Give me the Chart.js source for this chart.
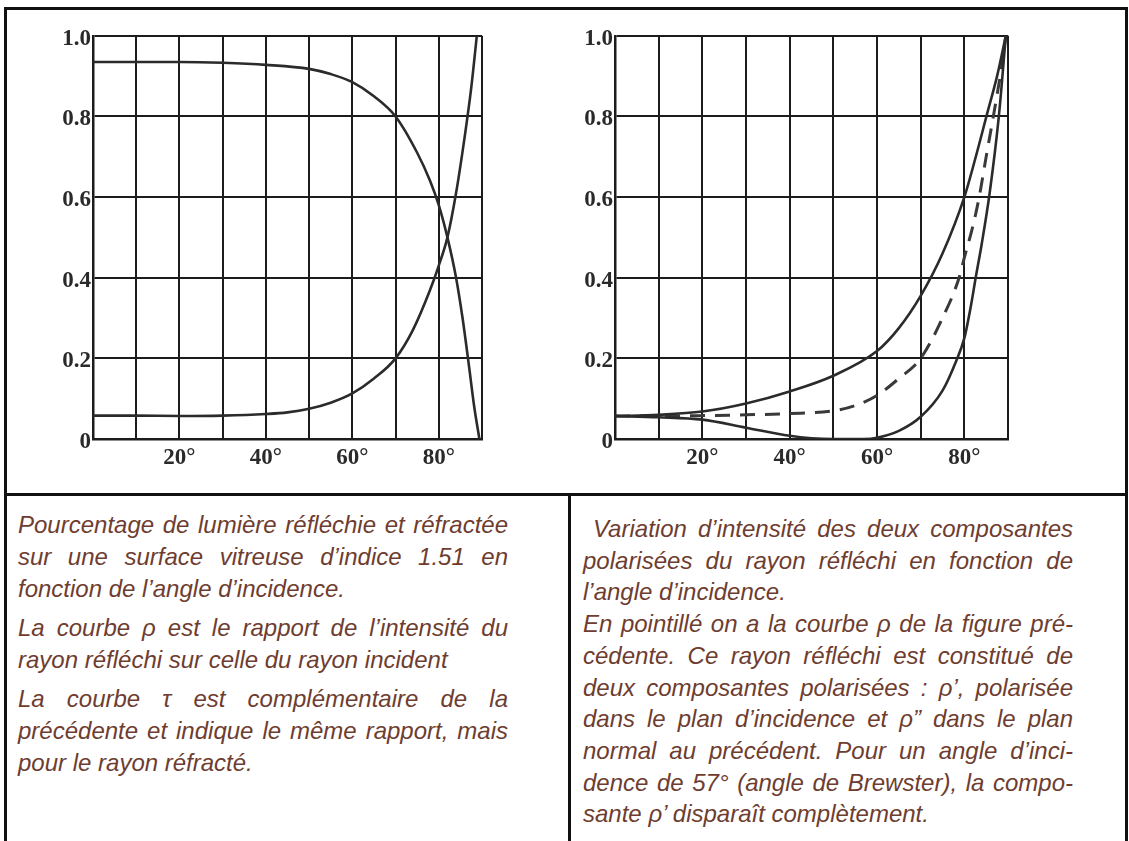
<!DOCTYPE html>
<html>
<head>
<meta charset="utf-8">
<script src="https://cdn.jsdelivr.net/npm/chart.js"></script>
<style>
  body { margin:0; background:#fff; }
  #page { position:relative; width:1129px; height:841px; overflow:hidden; background:#fff; }
  .ln { position:absolute; background:#111; }
  canvas { position:absolute; }
  .txt { position:absolute; width:490px; font-family:"Liberation Sans", Arial, sans-serif; font-style:italic;
         font-size:24px; line-height:32px; color:#6e3d2f; }
  .txt div { white-space:nowrap; }
  .txt .j { text-align:justify; text-align-last:justify; white-space:normal; }
  .gap { margin-top:7px; }
</style>
</head>
<body>
<div id="page">
  <div class="ln" style="left:4px; top:7px; width:1123px; height:3px;"></div>
  <div class="ln" style="left:4px; top:7px; width:3px; height:834px;"></div>
  <div class="ln" style="left:1125px; top:7px; width:3px; height:834px;"></div>
  <div class="ln" style="left:4px; top:493px; width:1124px; height:3px;"></div>
  <div class="ln" style="left:568px; top:493px; width:3px; height:348px;"></div>

  <canvas id="c1" width="470" height="460" style="left:30px; top:20px;"></canvas>
  <canvas id="c2" width="470" height="460" style="left:550px; top:20px;"></canvas>

  <div class="txt" style="left:18px; top:509px;">
    <div class="j">Pourcentage de lumière réfléchie et réfractée</div>
    <div class="j">sur une surface vitreuse d’indice 1.51 en</div>
    <div>fonction de l’angle d’incidence.</div>
    <div class="j gap">La courbe ρ est le rapport de l’intensité du</div>
    <div>rayon réfléchi sur celle du rayon incident</div>
    <div class="j gap">La courbe τ est complémentaire de la</div>
    <div class="j">précédente et indique le même rapport, mais</div>
    <div>pour le rayon réfracté.</div>
  </div>

  <div class="txt" style="left:583px; top:513px; line-height:31.7px;">
    <div class="j" style="padding-left:10px;">Variation d’intensité des deux composantes</div>
    <div class="j">polarisées du rayon réfléchi en fonction de</div>
    <div>l’angle d’incidence.</div>
    <div class="j">En pointillé on a la courbe ρ de la figure pré-</div>
    <div class="j">cédente. Ce rayon réfléchi est constitué de</div>
    <div class="j">deux composantes polarisées : ρ’, polarisée</div>
    <div class="j">dans le plan d’incidence et ρ” dans le plan</div>
    <div class="j">normal au précédent. Pour un angle d’inci-</div>
    <div class="j">dence de 57° (angle de Brewster), la compo-</div>
    <div>sante ρ’ disparaît complètement.</div>
  </div>
</div>

<script>
// axes
const xTicks = [0, 10, 20, 30, 40, 50, 60, 70, 80, 90];
const xLabels = ["", "", "20°", "", "40°", "", "60°", "", "80°", ""];
const yTicks = [0, 0.2, 0.4, 0.6, 0.8, 1.0];
const yLabels = ["0", "0.2", "0.4", "0.6", "0.8", "1.0"];

// figure 1 : rho (réfléchi) et tau (réfracté)
const rhoAngles = [0, 10, 20, 30, 40, 45, 50, 55, 60, 65, 70, 74, 78, 80, 82, 84, 86, 87.5, 88.8];
const rhoValues = [0.058, 0.058, 0.057, 0.058, 0.062, 0.066, 0.075, 0.09, 0.113, 0.15, 0.2, 0.27, 0.37, 0.43, 0.5, 0.61, 0.75, 0.87, 1.0];
const tauAngles = [0, 10, 20, 30, 40, 50, 55, 60, 65, 70, 75, 78, 80, 82, 84, 85.5, 87, 88.2, 89.4];
const tauValues = [0.935, 0.935, 0.935, 0.933, 0.928, 0.918, 0.905, 0.885, 0.85, 0.80, 0.71, 0.64, 0.58, 0.5, 0.4, 0.3, 0.18, 0.08, 0];

// figure 2 : rho'' (haut), rho' (bas), rho en pointillé
const rho2Angles = [0, 10, 20, 30, 40, 50, 60, 65, 70, 75, 80, 82.5, 85.3, 87.5, 89.5];
const rho2Values = [0.057, 0.06, 0.068, 0.088, 0.118, 0.157, 0.218, 0.275, 0.355, 0.46, 0.6, 0.695, 0.81, 0.9, 1.0];
const rho1Angles = [0, 10, 20, 30, 40, 45, 50, 57, 60, 65, 70, 75, 78, 80, 81.5, 82.6, 84, 85.8, 87.9, 89.5];
const rho1Values = [0.057, 0.054, 0.048, 0.028, 0.008, 0.002, 0, 0, 0.003, 0.02, 0.055, 0.12, 0.19, 0.25, 0.33, 0.4, 0.485, 0.61, 0.8, 1.0];
const rhoDashAngles = [0, 10, 20, 30, 40, 50, 55, 60, 65, 70, 75, 78.8, 80, 82, 83.4, 85, 86.8, 88.5, 89.5];
const rhoDashValues = [0.057, 0.057, 0.058, 0.06, 0.063, 0.07, 0.083, 0.108, 0.15, 0.2, 0.3, 0.4, 0.45, 0.53, 0.6, 0.7, 0.81, 0.92, 1.0];

const pts = (a, v) => a.map((x, i) => ({x: x, y: v[i]}));

function courbe(a, v, dash) {
    return {
        data: pts(a, v),
        borderColor: dash ? "#3a3a3a" : "#2b2b2b",
        borderWidth: dash ? 3 : 2.6,
        borderDash: dash ? [15, 10] : [],
        pointRadius: 0,
        cubicInterpolationMode: "monotone",
        fill: false
    };
}

function options(yWidth, padTop, padRight) {
    const grid = {color: "#1c1c1c", lineWidth: 2, drawTicks: false};
    const tickFont = {family: "'Liberation Serif', 'DejaVu Serif', serif", size: 23, weight: "bold"};
    return {
        responsive: false,
        animation: false,
        devicePixelRatio: 1,
        layout: {padding: {top: padTop, right: padRight, left: 0, bottom: 0}},
        plugins: {legend: {display: false}, tooltip: {enabled: false}},
        scales: {
            x: {
                type: "linear", min: 0, max: 90,
                afterBuildTicks: s => { s.ticks = xTicks.map(v => ({value: v})); },
                afterFit: s => { s.height = 41; },
                grid: grid,
                border: {color: "#1c1c1c", width: 2.5},
                ticks: {
                    color: "#2a2a2a", font: tickFont, padding: 5, maxRotation: 0, autoSkip: false,
                    callback: v => xLabels[xTicks.indexOf(v)]
                }
            },
            y: {
                type: "linear", min: 0, max: 1,
                afterBuildTicks: s => { s.ticks = yTicks.map(v => ({value: v})); },
                afterFit: s => { s.width = yWidth; },
                grid: grid,
                border: {color: "#1c1c1c", width: 2.5},
                ticks: {
                    color: "#2a2a2a", font: tickFont, padding: 2, labelOffset: 3,
                    callback: v => yLabels[yTicks.findIndex(t => Math.abs(t - v) < 1e-6)]
                }
            }
        }
    };
}

new Chart(document.getElementById("c1"), {
    type: "line",
    data: {datasets: [courbe(rhoAngles, rhoValues), courbe(tauAngles, tauValues)]},
    options: options(63, 11, 18)
});

new Chart(document.getElementById("c2"), {
    type: "line",
    data: {datasets: [
        courbe(rho2Angles, rho2Values),
        courbe(rho1Angles, rho1Values),
        courbe(rhoDashAngles, rhoDashValues, true)
    ]},
    options: options(65, 12, 12)
});
</script>
</body>
</html>
